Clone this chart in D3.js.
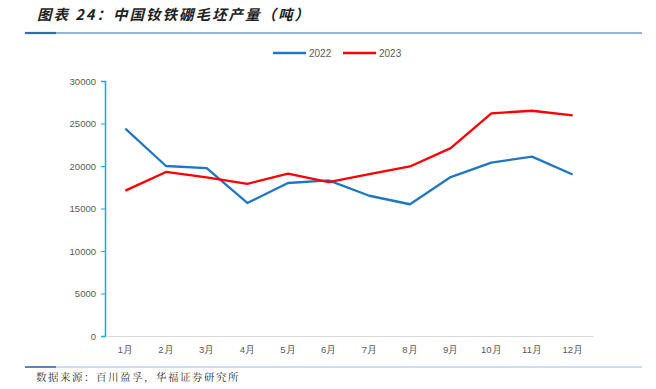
<!DOCTYPE html>
<html>
<head>
<meta charset="utf-8">
<script src="https://cdn.jsdelivr.net/npm/d3@7"></script>
<style>
  body { margin: 0; background: #fff; }
  svg { display: block; font-family: "Noto Sans CJK SC", "Liberation Sans", sans-serif; }
</style>
</head>
<body>
<svg id="chart" width="656" height="389"></svg>
<script>
const months = ["1月","2月","3月","4月","5月","6月","7月","8月","9月","10月","11月","12月"];
const v2022 = [24400, 20000, 19750, 15650, 18000, 18300, 16500, 15500, 18700, 20400, 21100, 19000];
const v2023 = [17100, 19300, 18650, 17900, 19100, 18100, 19050, 19950, 22100, 26200, 26500, 25950];
const yTicks = [0, 5000, 10000, 15000, 20000, 25000, 30000];

const svg = d3.select("#chart");
const W = 656, H = 389;
const m = { left: 105, right: 63, top: 81, bottom: 53 };

// title
svg.append("text")
  .attr("x", 37).attr("y", 20)
  .attr("font-size", 14.5).attr("font-weight", "bold").attr("font-style", "italic")
  .attr("letter-spacing", 2)
  .attr("fill", "#222")
  .text("图表 24：中国钕铁硼毛坯产量（吨）");

svg.append("line").attr("x1", 25).attr("x2", 642).attr("y1", 33).attr("y2", 33)
  .attr("stroke", "#2f6bb5").attr("stroke-width", 1.2);
svg.append("line").attr("x1", 25).attr("x2", 56).attr("y1", 33).attr("y2", 33)
  .attr("stroke", "#2f6bb5").attr("stroke-width", 2.2);

// bottom rule + source
svg.append("line").attr("x1", 25).attr("x2", 642).attr("y1", 367).attr("y2", 367)
  .attr("stroke", "#9ab8e0").attr("stroke-width", 1);
svg.append("line").attr("x1", 25).attr("x2", 56).attr("y1", 367).attr("y2", 367)
  .attr("stroke", "#2f6bb5").attr("stroke-width", 1.5);
svg.append("text")
  .attr("x", 36).attr("y", 381)
  .attr("font-size", 10.5).attr("fill", "#333")
  .attr("letter-spacing", 1.5)
  .attr("font-family", "Noto Serif CJK SC, Noto Sans CJK SC, serif")
  .text("数据来源：百川盈孚，华福证券研究所");

const x = d3.scaleBand().domain(months).range([m.left, W - m.right]);
const y = d3.scaleLinear().domain([0, 30000]).range([H - m.bottom, m.top]);

// y axis
const yAxis = svg.append("g").attr("transform", `translate(${m.left},0)`)
  .call(d3.axisLeft(y).tickValues(yTicks).tickFormat(d3.format("d")).tickSize(4).tickPadding(5));
yAxis.select(".domain").attr("stroke", "#00b0f0").attr("stroke-width", 1.5);
yAxis.selectAll(".tick line").attr("stroke", "#00b0f0");
yAxis.selectAll("text").attr("fill", "#595959").attr("font-size", 9.5)
  .attr("font-family", "Liberation Sans, Arial, sans-serif");

// x axis
const xAxis = svg.append("g").attr("transform", `translate(0,${H - m.bottom})`)
  .call(d3.axisBottom(x).tickSize(0).tickPadding(10));
xAxis.select(".domain").attr("stroke", "#d9d9d9").attr("stroke-width", 1);
xAxis.selectAll("text").attr("fill", "#595959").attr("font-size", 9.5);

const line = d3.line()
  .x((d, i) => x(months[i]) + x.bandwidth() / 2)
  .y(d => y(d));

const series = [
  { name: "2022", values: v2022, color: "#1f77c4" },
  { name: "2023", values: v2023, color: "#ff0000" }
];

svg.selectAll(".series").data(series).enter().append("path")
  .attr("class", "series")
  .attr("fill", "none")
  .attr("stroke", d => d.color)
  .attr("stroke-width", 2.3)
  .attr("stroke-linejoin", "round")
  .attr("d", d => line(d.values));

// legend
const legend = svg.append("g");
series.forEach((s, i) => {
  const lx = 273 + i * 70;
  legend.append("line").attr("x1", lx).attr("x2", lx + 33).attr("y1", 53).attr("y2", 53)
    .attr("stroke", s.color).attr("stroke-width", 2.3);
  legend.append("text").attr("x", lx + 36).attr("y", 57)
    .attr("font-size", 10).attr("fill", "#595959")
    .attr("font-family", "Liberation Sans, Arial, sans-serif")
    .text(s.name);
});
</script>
</body>
</html>
